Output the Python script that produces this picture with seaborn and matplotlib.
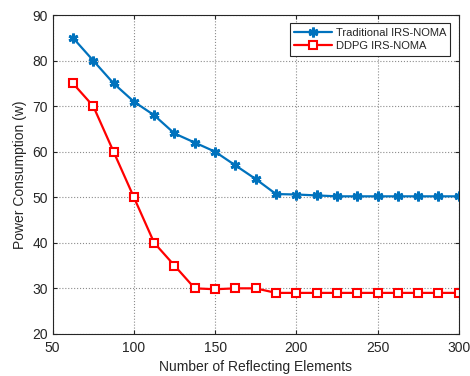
import numpy as np
import pandas as pd
import matplotlib
matplotlib.use("Agg")
import matplotlib.pyplot as plt
import seaborn as sns

elements = [62.5, 75, 87.5, 100, 112.5, 125, 137.5, 150, 162.5, 175,
            187.5, 200, 212.5, 225, 237.5, 250, 262.5, 275, 287.5, 300]
traditional = [85, 80, 75, 71, 68, 64, 62, 60, 57, 54,
               50.7, 50.6, 50.4, 50.2, 50.2, 50.2, 50.2, 50.2, 50.2, 50.2]
ddpg = [75, 70, 60, 50, 40, 35, 30, 29.8, 30, 30,
        29, 29, 29, 29, 29, 29, 29, 29, 29, 29]

sns.set_style("ticks")
plt.rcParams['font.family'] = ['Liberation Sans', 'DejaVu Sans']

fig = plt.figure(figsize=(4.7, 3.76), dpi=100)
ax = fig.add_axes([0.112, 0.112, 0.864, 0.848])

df = pd.DataFrame({"x": elements, "Traditional IRS-NOMA": traditional, "DDPG IRS-NOMA": ddpg})

sns.lineplot(data=df, x="x", y="Traditional IRS-NOMA", ax=ax, color="#0072BD",
             marker=(6, 2, 0), markersize=7, markeredgewidth=2.0, markeredgecolor="#0072BD",
             linewidth=1.6, label="Traditional IRS-NOMA")
sns.lineplot(data=df, x="x", y="DDPG IRS-NOMA", ax=ax, color="#FF0000",
             marker="s", markersize=5.5, markerfacecolor="white", markeredgewidth=1.5,
             markeredgecolor="#FF0000", linewidth=1.6, label="DDPG IRS-NOMA")

ax.set_xlim(50, 300)
ax.set_ylim(20, 90)
ax.set_xticks([50, 100, 150, 200, 250, 300])
ax.set_yticks([20, 30, 40, 50, 60, 70, 80, 90])
ax.grid(True, linestyle=":", color="#8c8c8c", linewidth=0.8)
for s in ax.spines.values():
    s.set_visible(True)
    s.set_color("#262626")
    s.set_linewidth(0.8)
ax.tick_params(direction="in", length=3, labelsize=10, colors="#262626", top=True, right=True)
ax.tick_params(axis="x", pad=5)
ax.set_xlabel("Number of Reflecting Elements", fontsize=10, labelpad=4)
ax.set_ylabel("Power Consumption (w)", fontsize=10, labelpad=4)

leg = ax.legend(loc="upper right", fontsize=8, frameon=True, fancybox=False,
                edgecolor="#262626", framealpha=1, borderaxespad=0.75,
                handlelength=3.4, borderpad=0.4, labelspacing=0.3, handletextpad=0.3)
leg.get_frame().set_linewidth(0.8)

fig.savefig("out.png", dpi=100)
